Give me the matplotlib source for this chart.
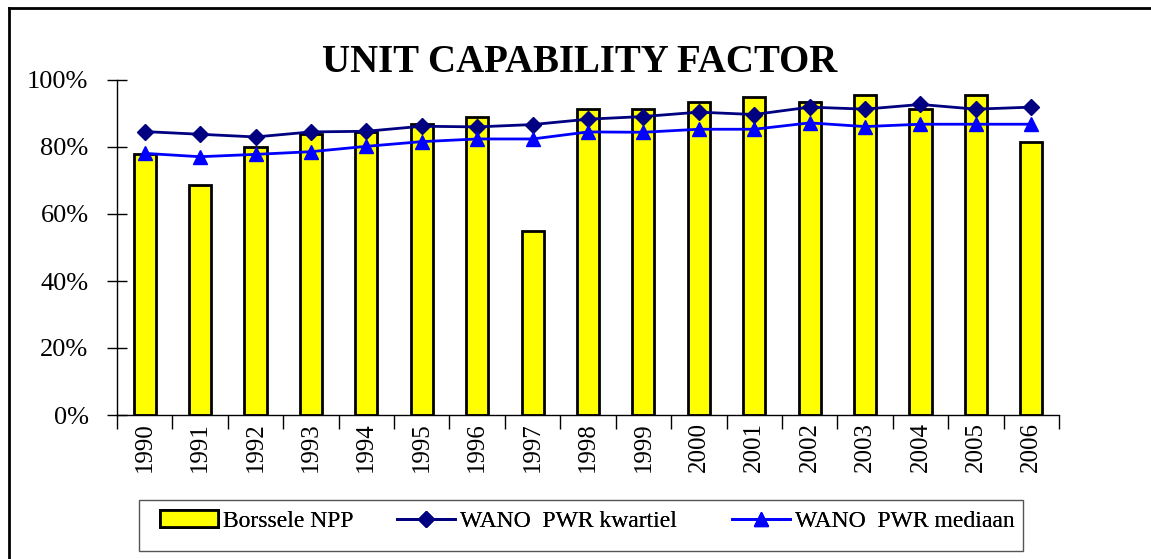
import matplotlib.pyplot as plt
from matplotlib.lines import Line2D
from matplotlib.patches import Rectangle, Patch
from matplotlib.ticker import PercentFormatter
import numpy as np

years = [str(y) for y in range(1990, 2007)]
borssele = [77.8, 68.8, 80.1, 83.8, 84.6, 86.9, 89.0, 54.8, 91.2,
            91.2, 93.4, 94.9, 93.4, 95.6, 91.2, 95.6, 81.6]
kwartiel = [84.6, 83.8, 83.0, 84.5, 84.7, 86.2, 86.0, 86.7, 88.3,
            89.1, 90.4, 89.7, 91.9, 91.3, 92.7, 91.3, 91.9]
mediaan = [78.1, 77.1, 77.8, 78.6, 80.2, 81.6, 82.4, 82.4, 84.5,
           84.4, 85.3, 85.3, 87.2, 86.1, 86.8, 86.8, 86.8]

plt.rcParams['font.family'] = ['Liberation Serif', 'DejaVu Serif']

W, H = 1151, 559
fig = plt.figure(figsize=(W / 100, H / 100), dpi=100)
ax = fig.add_axes([117 / W, 1 - 415 / H, (1059 - 117) / W, (415 - 80) / H])

x = np.arange(len(years))
ax.bar(x, borssele, width=0.4, color='#FFFF00', edgecolor='black', linewidth=2, zorder=2)
ax.plot(x, kwartiel, color='#000080', lw=2, marker='D', ms=8, zorder=3)
ax.plot(x, mediaan, color='#0000FF', lw=2, marker='^', ms=10, zorder=3)

ax.set_xlim(-0.5, len(years) - 0.5)
ax.set_ylim(0, 100)
ax.set_yticks(np.arange(0, 101, 20))
ax.yaxis.set_major_formatter(PercentFormatter(decimals=0))
ax.tick_params(axis='y', direction='inout', length=15, width=1, labelsize=19, pad=13)

ax.set_xticks(x)
ax.set_xticklabels(years, rotation=90, fontsize=18)
ax.tick_params(axis='x', length=0, pad=5)
ax.set_xticks(np.arange(-0.5, len(years), 1), minor=True)
ax.tick_params(axis='x', which='minor', direction='out', length=10, width=1)

for s in ['top', 'right']:
    ax.spines[s].set_visible(False)
ax.spines['left'].set_linewidth(1)
ax.spines['bottom'].set_linewidth(1)

fig.text(580 / W, 1 - 62 / H, 'UNIT CAPABILITY FACTOR', ha='center', va='center',
         fontsize=28, fontweight='bold')

# outer border (top and left)
fig.add_artist(Line2D([9 / W, 1], [1 - 8 / H, 1 - 8 / H], color='black', lw=2))
fig.add_artist(Line2D([9 / W, 9 / W], [0, 1 - 8 / H], color='black', lw=2))

# legend frame
fig.add_artist(Rectangle((139 / W, 1 - 551 / H), (1023 - 139) / W, (551 - 500) / H,
                         transform=fig.transFigure, fill=False, edgecolor='#555555', lw=1))
handles = [Patch(facecolor='#FFFF00', edgecolor='black', linewidth=2),
           Line2D([], [], color='#000080', lw=2, marker='D', ms=8),
           Line2D([], [], color='#0000FF', lw=2, marker='^', ms=10)]
labels = ['Borssele NPP', 'WANO  PWR kwartiel', 'WANO  PWR mediaan']
starts = [160, 397, 732]
for h, lab, x0 in zip(handles, labels, starts):
    fig.add_artist(fig.legend([h], [lab], loc='center left',
                              bbox_to_anchor=(x0 / W, 1 - 521 / H),
                              frameon=False, fontsize=17, handlelength=2.45,
                              handletextpad=0.2, borderpad=0, borderaxespad=0))

fig.savefig('out.png', dpi=100)
